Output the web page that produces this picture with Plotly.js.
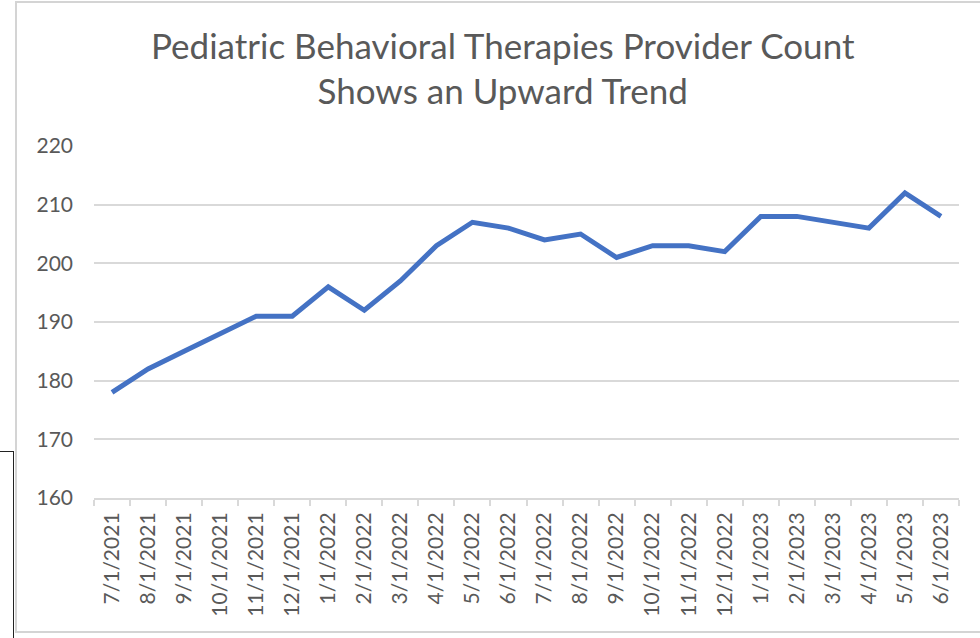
<!DOCTYPE html>
<html>
<head>
<meta charset="utf-8">
<script src="https://cdn.plot.ly/plotly-3.0.1.min.js"></script>
<style>
  html, body { margin: 0; padding: 0; background: #ffffff; }
  #wrap { position: relative; width: 980px; height: 638px; overflow: hidden; }
  #chart { position: absolute; left: 0; top: 0; width: 980px; height: 638px; }
  #frame { position: absolute; left: 15px; top: 1px; width: 980px; height: 632px;
           border: 2px solid #d4d4d4; pointer-events: none; box-sizing: border-box; }
  #frag { position: absolute; left: -2px; top: 451px; width: 14px; height: 200px;
          border: 1px solid #222; pointer-events: none; }
</style>
</head>
<body>
<div id="wrap">
  <div id="chart"></div>
  <div id="frame"></div>
  <div id="frag"></div>
</div>
<script>
const categories = ["7/1/2021","8/1/2021","9/1/2021","10/1/2021","11/1/2021","12/1/2021",
  "1/1/2022","2/1/2022","3/1/2022","4/1/2022","5/1/2022","6/1/2022",
  "7/1/2022","8/1/2022","9/1/2022","10/1/2022","11/1/2022","12/1/2022",
  "1/1/2023","2/1/2023","3/1/2023","4/1/2023","5/1/2023","6/1/2023"];
const providerCount = [178,182,185,188,191,191,196,192,197,203,207,206,
  204,205,201,203,203,202,208,208,207,206,212,208];
const yTicks = [160,170,180,190,200,210,220];

const FONT = "Lato, 'Open Sans', sans-serif";
const GRAY = "#595959";

Plotly.newPlot("chart", [{
  type: "scatter",
  mode: "lines",
  x: categories,
  y: providerCount,
  line: { color: "#4472C4", width: 5, shape: "linear" },
  hoverinfo: "x+y"
}], {
  width: 980, height: 638,
  margin: { l: 94, r: 21, t: 146, b: 140 },
  paper_bgcolor: "#ffffff",
  plot_bgcolor: "#ffffff",
  showlegend: false,
  title: {
    text: "Pediatric Behavioral Therapies Provider Count<br>Shows an Upward Trend",
    font: { family: FONT, size: 35, color: GRAY },
    x: 0.513, xref: "container", xanchor: "center",
    y: 0.908, yref: "container", yanchor: "top"
  },
  xaxis: {
    type: "category",
    tickangle: -90,
    tickfont: { family: FONT, size: 21, color: GRAY },
    showgrid: false,
    showline: true, linecolor: "#d9d9d9", linewidth: 2,
    ticks: "outside", tickson: "boundaries", ticklen: 6, tickcolor: "#d9d9d9", tickwidth: 2,
    zeroline: false, ticklabelstandoff: 4,
    range: [-0.5, categories.length - 0.5]
  },
  yaxis: {
    range: [160, 220],
    tickvals: yTicks,
    tickfont: { family: FONT, size: 21, color: GRAY },
    showgrid: true, gridcolor: "#d9d9d9", gridwidth: 2,
    showline: false, zeroline: false,
    ticks: "", ticklabelstandoff: 20
  }
}, { displayModeBar: false, staticPlot: true });
</script>
</body>
</html>
